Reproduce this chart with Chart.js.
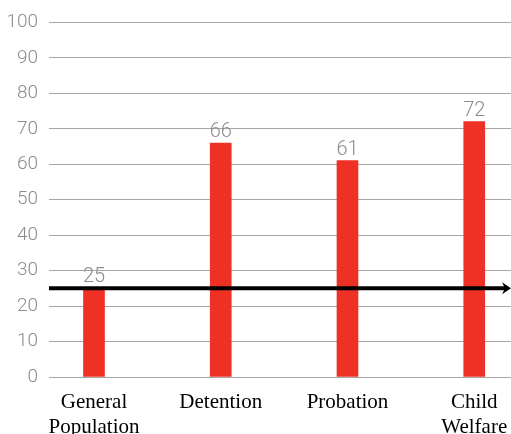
<!DOCTYPE html>
<html lang="en">
<head>
    <meta charset="UTF-8">
    <title>Chart</title>
    <style>
        html, body { margin: 0; padding: 0; background: #fff; }
        #wrap { width: 511px; height: 434px; }
    </style>
</head>
<body>
    <div id="wrap"><canvas id="bars"></canvas></div>
    <script src="https://cdn.jsdelivr.net/npm/chart.js"></script>
    <script>
        const categories = [['General', 'Population'], 'Detention', 'Probation', ['Child', 'Welfare']];
        const values = [25, 66, 61, 72];
        const baseline = 25;
        const yTicks = [0, 10, 20, 30, 40, 50, 60, 70, 80, 90, 100];

        const grayFont = "'Roboto', sans-serif";

        // value labels above bars
        const valueLabels = {
            id: 'valueLabels',
            afterDatasetsDraw(chart) {
                const c = chart.ctx;
                const meta = chart.getDatasetMeta(0);
                c.save();
                c.font = '300 20px ' + grayFont;
                c.fillStyle = '#8c8c8c';
                c.textAlign = 'center';
                c.textBaseline = 'bottom';
                meta.data.forEach((bar, i) => {
                    c.fillText(values[i], bar.x, bar.y - 1);
                });
                c.restore();
            }
        };

        // black arrow at the baseline value
        const arrowLine = {
            id: 'arrowLine',
            afterDatasetsDraw(chart) {
                const c = chart.ctx;
                const area = chart.chartArea;
                const y = chart.scales.y.getPixelForValue(baseline);
                c.save();
                c.strokeStyle = '#000';
                c.lineWidth = 4;
                c.beginPath();
                c.moveTo(area.left, y);
                c.lineTo(area.right - 3, y);
                c.stroke();
                c.fillStyle = '#000';
                c.beginPath();
                c.moveTo(area.right, y);
                c.lineTo(area.right - 9, y - 6);
                c.lineTo(area.right - 6, y);
                c.lineTo(area.right - 9, y + 6);
                c.closePath();
                c.fill();
                c.restore();
            }
        };

        const ctx = document.getElementById('bars');
        new Chart(ctx, {
            type: 'bar',
            data: {
                datasets: [
                    {
                        data: values.map((v, i) => ({ x: i, y: v })),
                        backgroundColor: '#ee3124',
                        barThickness: 21
                    }
                ]
            },
            options: {
                responsive: true,
                maintainAspectRatio: false,
                animation: false,
                layout: {
                    padding: { top: 20, right: 0, left: 0, bottom: 0 }
                },
                plugins: {
                    legend: { display: false },
                    tooltip: { enabled: false }
                },
                scales: {
                    x: {
                        type: 'linear',
                        offset: false,
                        min: -0.355,
                        max: 3.29,
                        grid: { display: false },
                        border: { display: false },
                        afterBuildTicks: (scale) => {
                            scale.ticks = categories.map((c, i) => ({ value: i }));
                        },
                        afterFit: (scale) => {
                            scale.height = 57;
                            scale.paddingLeft = 0;
                            scale.paddingRight = 0;
                        },
                        ticks: {
                            autoSkip: false,
                            maxRotation: 0,
                            padding: 5,
                            color: '#000',
                            font: { size: 21, family: "'Liberation Serif', serif", lineHeight: 1.2 },
                            callback: (value) => categories[Math.round(value)]
                        }
                    },
                    y: {
                        min: 0,
                        max: 100,
                        afterBuildTicks: (scale) => {
                            scale.ticks = yTicks.map(v => ({ value: v }));
                        },
                        afterFit: (scale) => {
                            scale.width = 49;
                        },
                        grid: {
                            color: '#a6a6a6',
                            lineWidth: 1,
                            drawTicks: false
                        },
                        border: { display: false },
                        ticks: {
                            padding: 11,
                            color: '#8c8c8c',
                            font: { size: 19, weight: 300, family: grayFont }
                        }
                    }
                }
            },
            plugins: [valueLabels, arrowLine]
        });
    </script>
</body>
</html>
